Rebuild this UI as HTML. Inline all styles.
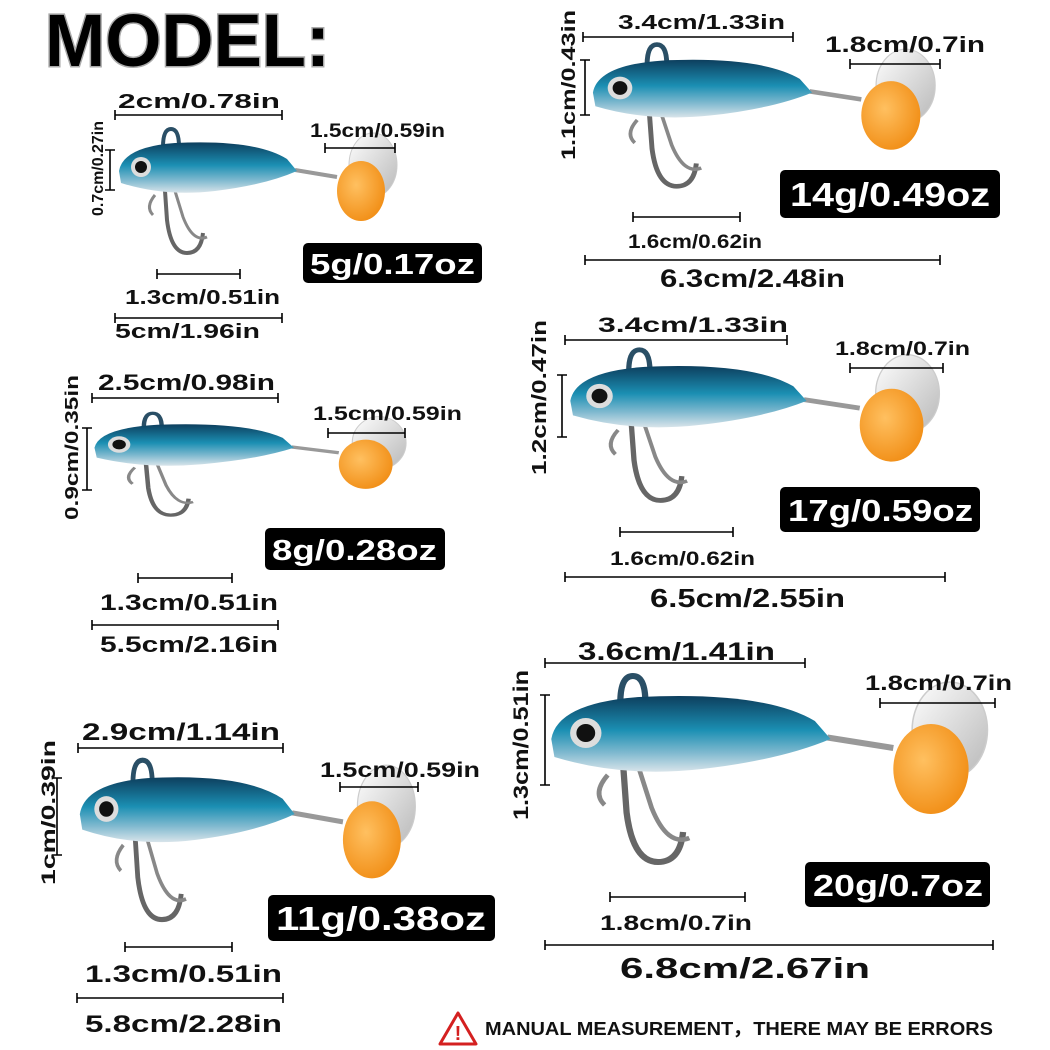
<!DOCTYPE html>
<html><head><meta charset="utf-8"><style>
html,body{margin:0;padding:0;background:#fff;width:1050px;height:1050px;overflow:hidden}
svg text{font-family:"Liberation Sans",Arial,sans-serif}
</style></head><body>
<svg width="1050" height="1050" viewBox="0 0 1050 1050" xmlns="http://www.w3.org/2000/svg">
<defs>
<linearGradient id="bg" x1="0" y1="0" x2="0" y2="1">
<stop offset="0" stop-color="#0d3f5e"/><stop offset="0.45" stop-color="#1b8fb3"/><stop offset="0.75" stop-color="#7fb9cf"/><stop offset="1" stop-color="#d8e4ea"/></linearGradient>
<radialGradient id="og" cx="0.4" cy="0.4" r="0.7"><stop offset="0" stop-color="#ffc060"/><stop offset="1" stop-color="#f08a10"/></radialGradient>
<linearGradient id="sg" x1="0" y1="0" x2="1" y2="1"><stop offset="0" stop-color="#ffffff"/><stop offset="1" stop-color="#b8b8b8"/></linearGradient>
<symbol id="lure" viewBox="0 0 290 140" preserveAspectRatio="none">
<path d="M48,22 Q48,4 56,4 Q64,4 64,22" fill="none" stroke="#2a4f66" stroke-width="4"/>
<path d="M50,66 L52,95 Q56,128 72,128 Q86,128 88,108" fill="none" stroke="#666" stroke-width="4"/>
<path d="M60,66 L68,92 Q78,118 92,112" fill="none" stroke="#888" stroke-width="3"/>
<path d="M40,70 Q30,82 38,90" fill="none" stroke="#888" stroke-width="3"/>
<path d="M180,45 L222,52" stroke="#999" stroke-width="4"/>
<ellipse cx="258" cy="40" rx="24" ry="32" fill="url(#sg)" stroke="#ccc"/>
<ellipse cx="246" cy="66" rx="24" ry="30" fill="url(#og)"/>
<path d="M4,46 Q8,22 60,18 Q140,14 172,34 L182,46 Q150,60 100,66 Q50,72 6,58 Z" fill="url(#bg)"/>
<circle cx="26" cy="42" r="10" fill="#ddd"/><circle cx="26" cy="42" r="6" fill="#111"/>
</symbol>
</defs>

<text x="45" y="66" font-size="74" font-weight="bold" fill="#000" stroke="#aaa" stroke-width="3" paint-order="stroke" textLength="285" lengthAdjust="spacingAndGlyphs">MODEL:</text>

<use href="#lure" x="115" y="125" width="290" height="140"/>
<use href="#lure" x="90" y="410" width="325" height="115"/>
<use href="#lure" x="75" y="755" width="350" height="180"/>
<use href="#lure" x="588" y="40" width="357" height="160"/>
<use href="#lure" x="565" y="345" width="385" height="170"/>
<use href="#lure" x="545" y="670" width="455" height="210"/>

<g stroke="#000" stroke-width="1.6" fill="none">
<path d="M115,115H282M115,110V120M282,110V120"/>
<path d="M110,150V190M105,150H115M105,190H115"/>
<path d="M325,148H395M325,143V153M395,143V153"/>
<path d="M157,274H240M157,269V279M240,269V279"/>
<path d="M115,318H282M115,313V323M282,313V323"/>
<path d="M92,398H278M92,393V403M278,393V403"/>
<path d="M87,428V490M82,428H92M82,490H92"/>
<path d="M328,433H405M328,428V438M405,428V438"/>
<path d="M138,578H232M138,573V583M232,573V583"/>
<path d="M92,625H278M92,620V630M278,620V630"/>
<path d="M78,748H283M78,743V753M283,743V753"/>
<path d="M57,778V855M52,778H62M52,855H62"/>
<path d="M340,787H418M340,782V792M418,782V792"/>
<path d="M125,947H232M125,942V952M232,942V952"/>
<path d="M77,998H283M77,993V1003M283,993V1003"/>
<path d="M583,37H793M583,32V42M793,32V42"/>
<path d="M585,60V115M580,60H590M580,115H590"/>
<path d="M850,64H940M850,59V69M940,59V69"/>
<path d="M633,217H740M633,212V222M740,212V222"/>
<path d="M585,260H940M585,255V265M940,255V265"/>
<path d="M565,340H787M565,335V345M787,335V345"/>
<path d="M562,375V437M557,375H567M557,437H567"/>
<path d="M850,368H943M850,363V373M943,363V373"/>
<path d="M620,532H733M620,527V537M733,527V537"/>
<path d="M565,577H945M565,572V582M945,572V582"/>
<path d="M545,663H805M545,658V668M805,658V668"/>
<path d="M545,695V785M540,695H550M540,785H550"/>
<path d="M880,703H995M880,698V708M995,698V708"/>
<path d="M610,897H745M610,892V902M745,892V902"/>
<path d="M545,945H993M545,940V950M993,940V950"/>
</g>

<g fill="#111" font-size="19" font-weight="bold" lengthAdjust="spacingAndGlyphs">
<text x="118" y="108" font-size="20" textLength="162" lengthAdjust="spacingAndGlyphs">2cm/0.78in</text>
<text x="310" y="137" textLength="135" lengthAdjust="spacingAndGlyphs">1.5cm/0.59in</text>
<text x="125" y="304" font-size="20" textLength="155" lengthAdjust="spacingAndGlyphs">1.3cm/0.51in</text>
<text x="115" y="338" font-size="20" textLength="145" lengthAdjust="spacingAndGlyphs">5cm/1.96in</text>
<text transform="translate(103,216) rotate(-90)" font-size="16" textLength="95" lengthAdjust="spacingAndGlyphs">0.7cm/0.27in</text>

<text x="98" y="390" font-size="22" textLength="177" lengthAdjust="spacingAndGlyphs">2.5cm/0.98in</text>
<text x="313" y="420" textLength="149" lengthAdjust="spacingAndGlyphs">1.5cm/0.59in</text>
<text x="100" y="610" font-size="22" textLength="178" lengthAdjust="spacingAndGlyphs">1.3cm/0.51in</text>
<text x="100" y="652" font-size="22" textLength="178" lengthAdjust="spacingAndGlyphs">5.5cm/2.16in</text>
<text transform="translate(78,520) rotate(-90)" font-size="18" textLength="145" lengthAdjust="spacingAndGlyphs">0.9cm/0.35in</text>

<text x="82" y="740" font-size="24" textLength="198" lengthAdjust="spacingAndGlyphs">2.9cm/1.14in</text>
<text x="320" y="777" font-size="21" textLength="160" lengthAdjust="spacingAndGlyphs">1.5cm/0.59in</text>
<text x="85" y="982" font-size="24" textLength="197" lengthAdjust="spacingAndGlyphs">1.3cm/0.51in</text>
<text x="85" y="1032" font-size="24" textLength="197" lengthAdjust="spacingAndGlyphs">5.8cm/2.28in</text>
<text transform="translate(55,885) rotate(-90)" font-size="19" textLength="145" lengthAdjust="spacingAndGlyphs">1cm/0.39in</text>

<text x="618" y="29" font-size="20" textLength="167" lengthAdjust="spacingAndGlyphs">3.4cm/1.33in</text>
<text x="825" y="52" font-size="22" textLength="160" lengthAdjust="spacingAndGlyphs">1.8cm/0.7in</text>
<text x="628" y="248" textLength="134" lengthAdjust="spacingAndGlyphs">1.6cm/0.62in</text>
<text x="660" y="287" font-size="25" textLength="185" lengthAdjust="spacingAndGlyphs">6.3cm/2.48in</text>
<text transform="translate(575,160) rotate(-90)" font-size="19" textLength="150" lengthAdjust="spacingAndGlyphs">1.1cm/0.43in</text>

<text x="598" y="332" font-size="21" textLength="190" lengthAdjust="spacingAndGlyphs">3.4cm/1.33in</text>
<text x="835" y="355" textLength="135" lengthAdjust="spacingAndGlyphs">1.8cm/0.7in</text>
<text x="610" y="565" textLength="145" lengthAdjust="spacingAndGlyphs">1.6cm/0.62in</text>
<text x="650" y="607" font-size="26" textLength="195" lengthAdjust="spacingAndGlyphs">6.5cm/2.55in</text>
<text transform="translate(546,475) rotate(-90)" font-size="20" textLength="155" lengthAdjust="spacingAndGlyphs">1.2cm/0.47in</text>

<text x="578" y="660" font-size="25" textLength="197" lengthAdjust="spacingAndGlyphs">3.6cm/1.41in</text>
<text x="865" y="690" font-size="21" textLength="147" lengthAdjust="spacingAndGlyphs">1.8cm/0.7in</text>
<text x="600" y="930" font-size="21" textLength="152" lengthAdjust="spacingAndGlyphs">1.8cm/0.7in</text>
<text x="620" y="978" font-size="29" textLength="250" lengthAdjust="spacingAndGlyphs">6.8cm/2.67in</text>
<text transform="translate(528,820) rotate(-90)" font-size="21" textLength="150" lengthAdjust="spacingAndGlyphs">1.3cm/0.51in</text>
</g>

<g font-weight="bold" fill="#fff">
<rect x="303" y="243" width="179" height="40" rx="5" fill="#000"/>
<text x="310" y="274" font-size="29" textLength="165" lengthAdjust="spacingAndGlyphs">5g/0.17oz</text>
<rect x="265" y="528" width="180" height="42" rx="5" fill="#000"/>
<text x="272" y="560" font-size="29" textLength="165" lengthAdjust="spacingAndGlyphs">8g/0.28oz</text>
<rect x="268" y="895" width="227" height="46" rx="5" fill="#000"/>
<text x="276" y="930" font-size="33" textLength="210" lengthAdjust="spacingAndGlyphs">11g/0.38oz</text>
<rect x="780" y="170" width="220" height="48" rx="5" fill="#000"/>
<text x="790" y="206" font-size="33" textLength="200" lengthAdjust="spacingAndGlyphs">14g/0.49oz</text>
<rect x="780" y="487" width="200" height="45" rx="5" fill="#000"/>
<text x="788" y="521" font-size="31" textLength="185" lengthAdjust="spacingAndGlyphs">17g/0.59oz</text>
<rect x="805" y="862" width="185" height="45" rx="5" fill="#000"/>
<text x="813" y="896" font-size="31" textLength="170" lengthAdjust="spacingAndGlyphs">20g/0.7oz</text>
</g>

<path d="M458,1013 L476,1044 L440,1044 Z" fill="none" stroke="#d42020" stroke-width="3" stroke-linejoin="round"/>
<text x="458" y="1040" font-size="20" font-weight="bold" fill="#d42020" text-anchor="middle">!</text>
<text x="485" y="1035" font-size="18.5" font-weight="bold" fill="#111" textLength="508" lengthAdjust="spacingAndGlyphs">MANUAL MEASUREMENT，THERE MAY BE ERRORS</text>
</svg>
</body></html>
